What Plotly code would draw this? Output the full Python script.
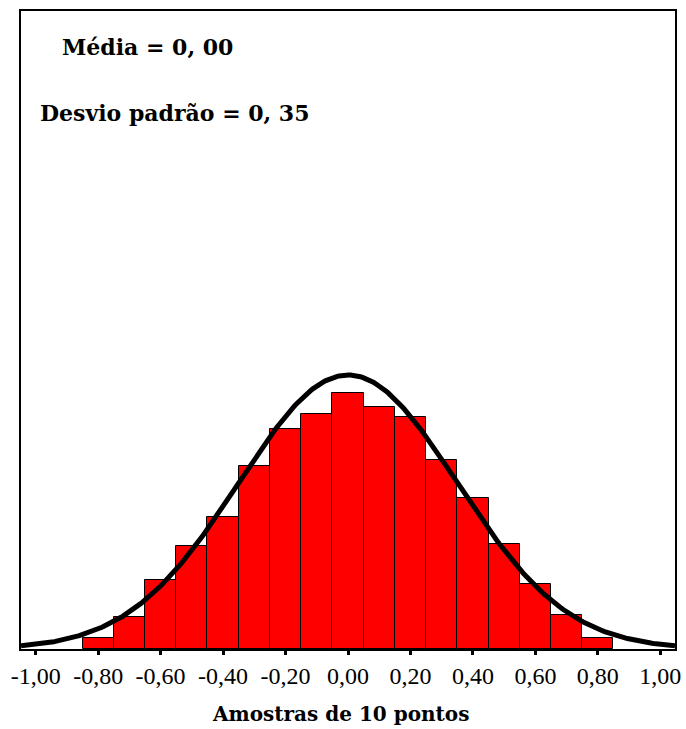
import numpy as np
import plotly.graph_objects as go

# Bin centres (width 0.1) and bar heights (frequency, arbitrary units)
bin_centers = [-0.8, -0.7, -0.6, -0.5, -0.4, -0.3, -0.2, -0.1, 0.0,
               0.1, 0.2, 0.3, 0.4, 0.5, 0.6, 0.7, 0.8]
frequencies = [11, 32, 69, 103, 132, 183, 220, 235, 256,
               242, 232, 189, 151, 105, 65, 34, 11]

tick_values = [-1.0, -0.8, -0.6, -0.4, -0.2, 0.0, 0.2, 0.4, 0.6, 0.8, 1.0]
tick_labels = ["-1,00", "-0,80", "-0,60", "-0,40", "-0,20", "0,00",
               "0,20", "0,40", "0,60", "0,80", "1,00"]

# Fitted normal curve parameters
MEAN = 0.0
SD = 0.35
PEAK = 274

curve_x = np.linspace(-1.047, 1.047, 400)
curve_y = PEAK * np.exp(-0.5 * ((curve_x - MEAN) / SD) ** 2)

fig = go.Figure()
fig.add_trace(go.Bar(
    x=bin_centers, y=frequencies, width=0.1,
    marker=dict(color="#FF0000", line=dict(color="black", width=1)),
    showlegend=False,
))
fig.add_trace(go.Scatter(
    x=curve_x, y=curve_y, mode="lines",
    line=dict(color="black", width=5),
    showlegend=False,
))

serif = "Liberation Serif, Times New Roman, serif"
bold_serif = "DejaVu Serif, serif"
fig.update_layout(
    width=686, height=729,
    margin=dict(l=21, r=5, t=11, b=80),
    paper_bgcolor="white", plot_bgcolor="white",
    bargap=0,
    xaxis=dict(
        range=[-1.047, 1.047],
        tickmode="array", tickvals=tick_values, ticktext=tick_labels,
        ticks="outside", ticklen=4, tickwidth=3, tickcolor="black",
        showline=True, linecolor="black", linewidth=2, mirror=True,
        showgrid=False, zeroline=False,
        tickfont=dict(family=serif, size=24, color="black"),
    ),
    yaxis=dict(
        range=[0, 638],
        showline=True, linecolor="black", linewidth=2, mirror=True,
        showgrid=False, zeroline=False, showticklabels=False, ticks="",
    ),
    annotations=[
        dict(text="<b>Média = 0, 00</b>", xref="paper", yref="paper",
             x=(60 - 21) / 660, y=(649 - 47) / 638, xanchor="left", yanchor="middle",
             showarrow=False, font=dict(family=bold_serif, size=22, color="black")),
        dict(text="<b>Desvio padrão = 0, 35</b>", xref="paper", yref="paper",
             x=(38 - 21) / 660, y=(649 - 113) / 638, xanchor="left", yanchor="middle",
             showarrow=False, font=dict(family=bold_serif, size=22, color="black")),
        dict(text="<b>Amostras de 10 pontos</b>", xref="paper", yref="paper",
             x=(343.5 - 21) / 660, y=-(714 - 649) / 638, xanchor="center", yanchor="middle",
             showarrow=False, font=dict(family=bold_serif, size=20, color="black")),
    ],
)

fig.write_html("out.html")
